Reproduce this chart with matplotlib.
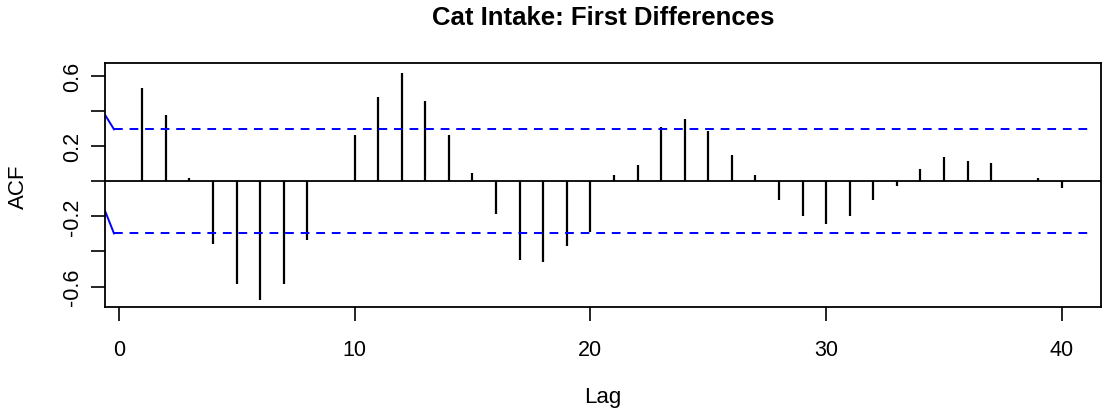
import numpy as np
import matplotlib.pyplot as plt

plt.rcParams['font.family'] = ['Liberation Sans', 'DejaVu Sans']

# ACF values
lags = list(range(1, 41))
acf_vals = [0.531, 0.381, 0.017, -0.358, -0.587, -0.676, -0.587, -0.335, 0.0, 0.267,
            0.484, 0.621, 0.461, 0.267, 0.050, -0.187, -0.451, -0.461, -0.371, -0.291,
            0.038, 0.095, 0.312, 0.358, 0.290, 0.152, 0.038, -0.107, -0.196, -0.244,
            -0.196, -0.107, -0.027, 0.072, 0.141, 0.118, 0.107, 0.0, 0.017, -0.038]

ci = 0.297
ci_start_upper = 0.38
ci_start_lower = -0.168
x_left, x_right = -0.58, 41.65
ci_x0 = -0.2
ci_x1 = 41.2

fig = plt.figure(figsize=(11.02, 4.14), dpi=100)
ax = fig.add_axes([0.0953, 0.2560, 0.9037, 0.5887])

ax.vlines(lags, 0, acf_vals, color='black', linewidth=1.6)
ax.axhline(0, color='black', linewidth=1.3)

# confidence band: short solid lead-in then dashed
ax.plot([x_left, ci_x0], [ci_start_upper, ci], color='#0000FF', linewidth=1.4)
ax.plot([x_left, ci_x0], [ci_start_lower, -ci], color='#0000FF', linewidth=1.4)
ax.plot([ci_x0, ci_x1], [ci, ci], color='#0000FF', linewidth=1.4, dashes=(4.5, 3.5))
ax.plot([ci_x0, ci_x1], [-ci, -ci], color='#0000FF', linewidth=1.4, dashes=(4.5, 3.5))

ax.set_xlim(x_left, x_right)
ax.set_ylim(-0.717, 0.674)

ax.set_xticks([0, 10, 20, 30, 40])
ax.set_yticks([-0.6, -0.4, -0.2, 0.0, 0.2, 0.4, 0.6])
ax.set_yticklabels(['-0.6', '', '-0.2', '', '0.2', '', '0.6'], rotation=90, va='center')
ax.tick_params(axis='both', direction='out', length=10, width=1.2, labelsize=15.5)
ax.tick_params(axis='x', pad=13)
ax.tick_params(axis='y', pad=6)

for s in ax.spines.values():
    s.set_linewidth(1.3)

fig.text(0.547, 0.957, 'Cat Intake: First Differences', ha='center', va='center',
         fontsize=18.5, fontweight='bold')
fig.text(0.017, 0.55, 'ACF', rotation=90, ha='center', va='center', fontsize=16)
fig.text(0.547, 0.041, 'Lag', ha='center', va='center', fontsize=16)

fig.savefig('out.png', dpi=100)
